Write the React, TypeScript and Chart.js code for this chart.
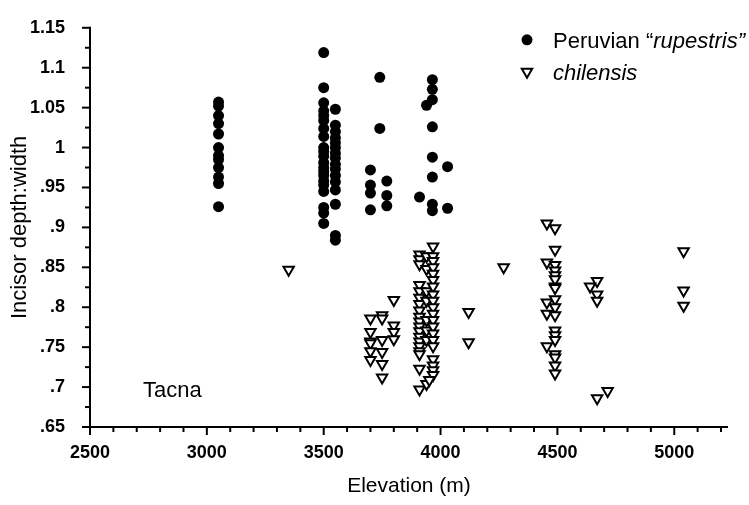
import React, { useEffect, useRef } from 'react';
import { Chart, registerables } from 'chart.js';

Chart.register(...registerables);

// ---------- data (elevation m, incisor depth:width) ----------
const X_TICKS = [2500, 3000, 3500, 4000, 4500, 5000];
const Y_TICKS = [0.65, 0.7, 0.75, 0.8, 0.85, 0.9, 0.95, 1, 1.05, 1.1, 1.15];

const rupestris3050 = [1.057, 1.052, 1.04, 1.03, 1.017, 1.0, 0.99, 0.985, 0.975, 0.963, 0.955, 0.926];
const rupestris3500 = [1.119, 1.075, 1.056, 1.046, 1.04, 1.034, 1.024, 1.014, 1.0, 0.995, 0.989, 0.981, 0.975, 0.97, 0.965, 0.958, 0.953, 0.945, 0.925, 0.918, 0.905];
const rupestris3550 = [1.048, 1.028, 1.02, 1.012, 1.006, 1.0, 0.993, 0.987, 0.979, 0.973, 0.965, 0.957, 0.947, 0.929, 0.89, 0.884];
const rupestris3965 = [1.085, 1.073, 1.06, 1.026, 0.988, 0.963, 0.929, 0.921];
const rupestrisOther: [number, number][] = [
  [3700, 0.972], [3700, 0.953], [3700, 0.943], [3700, 0.922],
  [3740, 1.088], [3740, 1.024],
  [3770, 0.958], [3770, 0.94], [3770, 0.927],
  [3910, 0.938], [3940, 1.053],
  [4030, 0.976], [4030, 0.924],
];

const chilensis3700 = [0.786, 0.769, 0.757, 0.755, 0.745, 0.734];
const chilensis3750 = [0.79, 0.786, 0.759, 0.744, 0.729, 0.712];
const chilensis3800 = [0.809, 0.777, 0.769, 0.76];
const chilensis3910 = [0.866, 0.86, 0.854, 0.828, 0.82, 0.812, 0.804, 0.796, 0.788, 0.782, 0.776, 0.77, 0.763, 0.757, 0.751, 0.745, 0.741, 0.723, 0.697];
const chilensis3940 = [0.864, 0.848, 0.82, 0.808, 0.784, 0.771, 0.759, 0.704];
const chilensis3968 = [0.876, 0.864, 0.858, 0.85, 0.842, 0.834, 0.826, 0.816, 0.808, 0.8, 0.792, 0.784, 0.776, 0.767, 0.759, 0.751, 0.735, 0.727, 0.721, 0.715];
const chilensis4455 = [0.905, 0.856, 0.806, 0.792, 0.751];
const chilensis4490 = [0.899, 0.872, 0.853, 0.846, 0.84, 0.835, 0.826, 0.824, 0.81, 0.8, 0.79, 0.771, 0.765, 0.759, 0.741, 0.737, 0.727, 0.717];
const chilensis4670 = [0.833, 0.816, 0.808, 0.686];
const chilensis5040 = [0.87, 0.821, 0.802];
const chilensisOther: [number, number][] = [
  [3350, 0.847], [3952, 0.709],
  [4120, 0.794], [4120, 0.756], [4270, 0.85],
  [4640, 0.826], [4715, 0.695],
];

const col = (elev: number, vals: number[]) => vals.map((v) => ({ x: elev, y: v }));
const pairs = (p: [number, number][]) => p.map(([x, y]) => ({ x, y }));

const rupestrisData = [
  ...col(3050, rupestris3050),
  ...col(3500, rupestris3500),
  ...col(3550, rupestris3550),
  ...col(3965, rupestris3965),
  ...pairs(rupestrisOther),
];
const chilensisData = [
  ...col(3700, chilensis3700),
  ...col(3750, chilensis3750),
  ...col(3800, chilensis3800),
  ...col(3910, chilensis3910),
  ...col(3940, chilensis3940),
  ...col(3968, chilensis3968),
  ...col(4455, chilensis4455),
  ...col(4490, chilensis4490),
  ...col(4670, chilensis4670),
  ...col(5040, chilensis5040),
  ...pairs(chilensisOther),
];

const FONT = '"Liberation Sans", Arial, Helvetica, sans-serif';

const fmtY = (v: number) => {
  let s = Number(v).toFixed(2).replace(/0+$/, '').replace(/\.$/, '');
  if (s.startsWith('0.')) s = s.slice(1);
  return s;
};

const decorPlugin = {
  id: 'decor',
  afterDraw(chart: any) {
    const { ctx, chartArea } = chart;
    const x = chart.scales.x;
    const y = chart.scales.y;
    ctx.save();
    ctx.strokeStyle = '#000';
    ctx.lineWidth = 2;
    // axis lines
    ctx.beginPath();
    ctx.moveTo(chartArea.left, chartArea.top - 1);
    ctx.lineTo(chartArea.left, chartArea.bottom);
    ctx.lineTo(chartArea.right, chartArea.bottom);
    ctx.stroke();
    // x ticks
    for (let v = 2500; v <= x.max + 0.001; v += 100) {
      const px = x.getPixelForValue(v);
      const len = v % 500 === 0 ? 8 : 5;
      ctx.beginPath();
      ctx.moveTo(px, chartArea.bottom);
      ctx.lineTo(px, chartArea.bottom + len);
      ctx.stroke();
    }
    // y ticks
    for (let i = 0; i <= 20; i++) {
      const v = 0.65 + i * 0.025;
      const py = y.getPixelForValue(v);
      const len = i % 2 === 0 ? 8 : 5;
      ctx.beginPath();
      ctx.moveTo(chartArea.left, py);
      ctx.lineTo(chartArea.left - len, py);
      ctx.stroke();
    }
    // Tacna label
    ctx.fillStyle = '#000';
    ctx.font = `22px ${FONT}`;
    ctx.textBaseline = 'alphabetic';
    ctx.textAlign = 'left';
    ctx.fillText('Tacna', chartArea.left + 53, chartArea.bottom - 30);

    // legend
    const lx = chartArea.right - 201;
    const ty = chartArea.top;
    ctx.beginPath();
    ctx.arc(lx, ty + 12, 5.5, 0, Math.PI * 2);
    ctx.fill();
    let tx = lx + 26;
    const b1 = ty + 20;
    ctx.font = `22px ${FONT}`;
    const s1 = 'Peruvian \u201C';
    ctx.fillText(s1, tx, b1);
    tx += ctx.measureText(s1).width;
    ctx.font = `italic 22px ${FONT}`;
    const s2 = 'rupestris\u201D';
    ctx.fillText(s2, tx, b1);
    // triangle
    const cy = ty + 44;
    const r = 6;
    ctx.lineWidth = 2;
    ctx.beginPath();
    ctx.moveTo(lx - r * 0.866, cy - r * 0.5);
    ctx.lineTo(lx + r * 0.866, cy - r * 0.5);
    ctx.lineTo(lx, cy + r);
    ctx.closePath();
    ctx.fillStyle = '#fff';
    ctx.fill();
    ctx.stroke();
    ctx.fillStyle = '#000';
    ctx.font = `italic 22px ${FONT}`;
    ctx.fillText('chilensis', lx + 26, ty + 52);
    ctx.restore();
  },
};

export default function App() {
  const ref = useRef<HTMLCanvasElement | null>(null);
  useEffect(() => {
    if (!ref.current) return;
    const chart = new Chart(ref.current, {
      type: 'scatter',
      data: {
        datasets: [
          {
            label: 'Peruvian rupestris',
            data: rupestrisData,
            pointStyle: 'circle',
            pointRadius: 5.5,
            backgroundColor: '#000',
            borderColor: '#000',
            borderWidth: 0,
          },
          {
            label: 'chilensis',
            data: chilensisData,
            pointStyle: 'triangle',
            rotation: 180,
            pointRadius: 6,
            backgroundColor: '#fff',
            borderColor: '#000',
            borderWidth: 2,
          },
        ],
      },
      options: {
        responsive: false,
        animation: false,
        devicePixelRatio: 1,
        layout: { padding: { top: 14, right: 21, left: 0, bottom: 0 } },
        plugins: { legend: { display: false }, tooltip: { enabled: false } },
        scales: {
          x: {
            type: 'linear',
            min: 2500,
            max: 5230,
            grid: { display: false },
            border: { display: false },
            afterBuildTicks: (s: any) => { s.ticks = X_TICKS.map((v) => ({ value: v })); },
            afterFit: (s: any) => { s.height = 78; },
            ticks: {
              padding: 7,
              color: '#000',
              font: { family: FONT, size: 18, weight: 'bold' },
              callback: (v: any) => String(v),
            },
            title: {
              display: true,
              text: 'Elevation (m)',
              color: '#000',
              font: { family: FONT, size: 21 },
              padding: { top: 0, bottom: 6 },
            },
          },
          y: {
            type: 'linear',
            min: 0.65,
            max: 1.15,
            grid: { display: false },
            border: { display: false },
            afterBuildTicks: (s: any) => { s.ticks = Y_TICKS.map((v) => ({ value: v })); },
            afterFit: (s: any) => { s.width = 90; },
            ticks: {
              padding: 17,
              color: '#000',
              font: { family: FONT, size: 18, weight: 'bold' },
              callback: (v: any) => fmtY(v),
            },
            title: {
              display: true,
              text: 'Incisor depth:width',
              color: '#000',
              font: { family: FONT, size: 22 },
              padding: { top: 7, bottom: 0 },
            },
          },
        },
      },
      plugins: [decorPlugin],
    });
    return () => chart.destroy();
  }, []);
  return (
    <div style={{ position: 'fixed', left: 0, top: 0, width: 749, height: 505, background: '#fff' }}>
      <canvas ref={ref} width={749} height={505} style={{ width: 749, height: 505, display: 'block' }} />
    </div>
  );
}
